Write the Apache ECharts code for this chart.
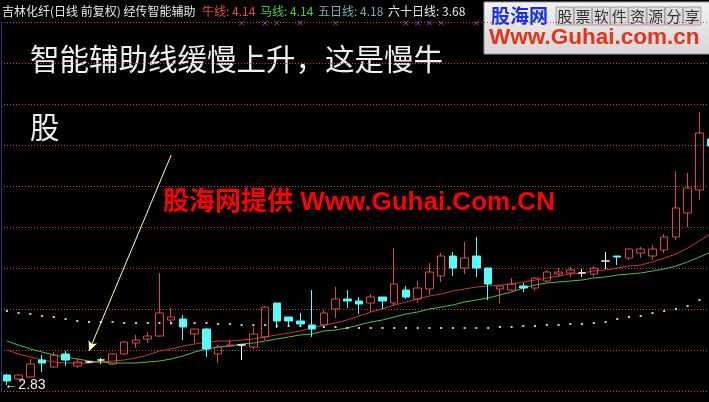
<!DOCTYPE html>
<html><head><meta charset="utf-8">
<script src="https://cdn.jsdelivr.net/npm/echarts@6/dist/echarts.min.js"></script>
<style>html,body{margin:0;padding:0;background:#000}#c{width:709px;height:402px}</style>
</head><body><div id="c"></div>
<script>
// ---- data ----
const days = ['1','2','3','4','5','6','7','8','9','10','11','12','13','14','15','16','17','18','19','20',
  '21','22','23','24','25','26','27','28','29','30','31','32','33','34','35','36','37','38','39','40',
  '41','42','43','44','45','46','47','48','49','50','51','52','53','54','55','56','57','58','59','60','61'];
const opens = [2.93,2.89,2.91,3.08,3.01,3.14,3.02,3.06,3.08,3.04,3.14,3.25,3.29,3.32,3.48,3.49,3.34,3.39,3.14,3.22,
  3.23,3.21,3.31,3.65,3.51,3.47,3.43,3.43,3.59,3.69,3.67,3.65,3.71,3.65,3.78,3.69,3.79,3.92,4.12,4.00,
  4.12,4.00,3.79,3.78,3.82,3.80,3.87,3.94,3.95,3.95,3.94,4.07,4.12,4.10,4.15,4.12,4.18,4.31,4.55,4.78,5.29];
const closes = [2.87,2.93,3.04,3.05,3.13,3.08,3.06,3.06,3.08,3.14,3.26,3.28,3.32,3.55,3.51,3.41,3.39,3.19,3.21,3.23,
  3.23,3.34,3.61,3.47,3.47,3.44,3.39,3.55,3.69,3.67,3.64,3.71,3.67,3.84,3.71,3.80,3.96,4.12,4.00,4.10,
  4.00,3.84,3.82,3.84,3.80,3.90,3.96,3.96,3.98,3.95,4.00,4.07,4.11,4.19,4.19,4.19,4.31,4.60,4.80,5.35,5.22];
const lows = [2.83,2.88,2.90,2.96,3.00,3.02,3.00,3.05,3.04,3.03,3.13,3.20,3.25,3.31,3.43,3.28,3.25,3.11,3.05,3.21,
  3.08,3.19,3.28,3.40,3.41,3.41,3.31,3.40,3.50,3.60,3.54,3.56,3.59,3.62,3.69,3.65,3.73,3.86,3.92,3.94,
  3.91,3.68,3.65,3.77,3.76,3.77,3.85,3.91,3.91,3.91,3.91,3.99,4.03,4.08,4.10,4.08,4.15,4.28,4.41,4.68,5.18];
const highs = [2.94,2.94,3.09,3.13,3.16,3.17,3.10,3.07,3.10,3.15,3.27,3.33,3.36,3.95,3.60,3.53,3.39,3.40,3.23,3.28,
  3.23,3.41,3.62,3.65,3.51,3.55,3.78,3.58,3.81,3.78,3.71,3.74,3.71,4.20,3.82,3.87,4.05,4.15,4.16,4.26,
  4.31,4.00,3.82,3.90,3.85,3.91,3.98,4.00,4.01,3.99,4.02,4.16,4.12,4.19,4.21,4.23,4.34,4.97,4.95,5.56,5.31];
const redLine = [3.18,3.14,3.11,3.08,3.06,3.05,3.05,3.05,3.06,3.07,3.08,3.10,3.13,3.17,3.19,3.22,3.24,3.26,3.27,3.27,
  3.28,3.29,3.31,3.33,3.35,3.37,3.40,3.43,3.45,3.48,3.52,3.56,3.59,3.63,3.66,3.69,3.72,3.74,3.77,3.79,
  3.81,3.82,3.83,3.84,3.86,3.88,3.90,3.92,3.94,3.95,3.97,3.98,4.00,4.02,4.03,4.06,4.10,4.14,4.20,4.27,4.35];
const greenLine = [3.27,3.23,3.19,3.16,3.13,3.11,3.09,3.07,3.06,3.05,3.05,3.05,3.06,3.07,3.09,3.12,3.16,3.19,3.21,3.22,
  3.24,3.25,3.27,3.29,3.31,3.33,3.34,3.37,3.38,3.40,3.43,3.46,3.48,3.51,3.54,3.56,3.59,3.61,3.63,3.66,
  3.68,3.70,3.73,3.76,3.80,3.83,3.85,3.86,3.87,3.88,3.90,3.91,3.93,3.94,3.95,3.97,3.99,4.02,4.06,4.11,4.16];
const dotLine = [3.57,3.55,3.54,3.52,3.51,3.49,3.47,3.46,3.46,3.46,3.45,3.45,3.45,3.45,3.45,3.45,3.45,3.45,3.44,3.44,
  3.43,3.43,3.43,3.42,3.42,3.42,3.41,3.41,3.41,3.40,3.40,3.40,3.40,3.40,3.40,3.40,3.40,3.40,3.40,3.40,
  3.40,3.40,3.41,3.41,3.42,3.42,3.43,3.43,3.44,3.44,3.45,3.46,3.49,3.51,3.52,3.55,3.57,3.59,3.62,3.68,3.72];
const signalDays = [20,22,23,25,28,34,35,36,37,40];
const signalLevel = 6.45;
const arrowFrom = [14, 5.13];
const arrowTo = [7, 3.17];
const yMin = 2.77, yMax = 6.46, yStep = 0.41;
const headerTitle = '吉林化纤(日线 前复权) 经传智能辅助';
const headerItems = [
  {name:'牛线', value:'4.14'}, {name:'马线', value:'4.14'},
  {name:'五日线', value:'4.18'}, {name:'六十日线', value:'3.68'}
];
const logoChars = ['股','票','软','件','资','源','分','享'];

// ---- chart ----
const CJK = '"Noto Sans CJK SC", sans-serif';
const candleData = opens.map((o, i) => [o, closes[i], lows[i], highs[i]]);
const headerX = [202, 260, 318, 388];
const headerNameColors = ['#f04848', '#48d048', '#78b0b0', '#e8e8e8'];

const graphics = [];
graphics.push({type:'text', x:2, y:11, style:{text:headerTitle, fill:'#e8e8e8', font:'12px ' + CJK, verticalAlign:'middle'}});
headerItems.forEach((h, k) => {
  graphics.push({type:'text', x:headerX[k], y:11, style:{text:h.name + ': ' + h.value, fill:headerNameColors[k], font:'12px ' + CJK, verticalAlign:'middle'}});
});
// logo box
graphics.push({type:'rect', shape:{x:484, y:2, width:226, height:52},
  style:{fill:new echarts.graphic.LinearGradient(0,0,0,1,[{offset:0,color:'#f2f2f2'},{offset:1,color:'#d6d6d6'}]), stroke:'#9a9a9a', lineWidth:1}});
graphics.push({type:'text', x:491, y:16, style:{text:'股海网', fill:'#1530e8', font:'bold 19px ' + CJK, verticalAlign:'middle'}});
logoChars.forEach((ch, k) => {
  graphics.push({type:'rect', shape:{x:556 + k*18.2, y:7, width:17.5, height:18}, style:{fill:'#dcdcdc', stroke:'#a0a0a0', lineWidth:1}});
  graphics.push({type:'text', x:556 + k*18.2 + 8.75, y:16.5, style:{text:ch, fill:'#303030', font:'15px ' + CJK, align:'center', verticalAlign:'middle'}});
});
graphics.push({type:'text', x:489, y:38, style:{text:'Www.Guhai.com.cn', fill:'#e8321a', font:'bold 22.5px "Liberation Sans", Arial, sans-serif', verticalAlign:'middle'}});
// annotations
graphics.push({type:'text', x:30, y:59, style:{text:'智能辅助线缓慢上升，这是慢牛', fill:'#f0f0f0', font:'29.5px ' + CJK, verticalAlign:'middle'}});
graphics.push({type:'text', x:30, y:127, style:{text:'股', fill:'#f0f0f0', font:'29.5px ' + CJK, verticalAlign:'middle'}});
graphics.push({type:'text', x:163, y:203, style:{text:'股海网提供 Www.Guhai.Com.CN', fill:'#ff0000', font:'bold 26px "Liberation Sans", "Noto Sans CJK SC", sans-serif', verticalAlign:'middle'}});

const option = {
  backgroundColor:'#000',
  animation:false,
  grid:{left:1, width:716, top:22, bottom:11, outerBoundsMode:'none', containLabel:false},
  xAxis:{type:'category', data:days, boundaryGap:true, show:false},
  yAxis:{type:'value', min:yMin, max:yMax, interval:yStep,
    axisLabel:{show:false}, axisTick:{show:false},
    axisLine:{show:true, lineStyle:{color:'#2a3a80'}},
    splitLine:{show:true, lineStyle:{color:'#d04848', type:[1,2], width:1}}},
  series:[
    {type:'line', data:redLine, symbol:'none', lineStyle:{color:'#c83838', width:1}, z:3,
      markLine:{silent:true, symbol:['none','arrow'], symbolSize:[7,10], label:{show:false},
        lineStyle:{color:'#ffffb8', width:1, type:'solid'},
        data:[[{coord:arrowFrom},{coord:arrowTo}]]}},
    {type:'line', data:greenLine, symbol:'none', lineStyle:{color:'#48c048', width:1}, z:3},
    {type:'candlestick', data:candleData, barWidth:8, z:4,
      itemStyle:{color:'rgba(0,0,0,0)', color0:'#54fcfc', borderColor:'#d84848', borderColor0:'#54fcfc', borderColorDoji:'#ffffff', borderWidth:1},
      markPoint:{symbol:'circle', symbolSize:1, itemStyle:{color:'rgba(0,0,0,0)'},
        label:{show:true, position:'right', distance:0, offset:[-3,0], color:'#f0f0f0', fontSize:14,
          fontFamily:'"Liberation Sans","DejaVu Sans",sans-serif', formatter:p => '←' + Number(p.value).toFixed(2)},
        data:[{type:'min', valueDim:'lowest'}]}},
    {type:'scatter', data:dotLine, symbol:'rect', symbolSize:2, itemStyle:{color:'#ffffff'}, z:5},
    {type:'scatter', data:signalDays.map(d => [d, signalLevel]), symbol:'path://M0,0L10,10M10,0L0,10', symbolSize:5,
      itemStyle:{color:'rgba(0,0,0,0)', borderColor:'#c048c8', borderWidth:1}, z:5}
  ],
  graphic:graphics
};
const chart = echarts.init(document.getElementById('c'));
chart.setOption(option);
</script></body></html>
